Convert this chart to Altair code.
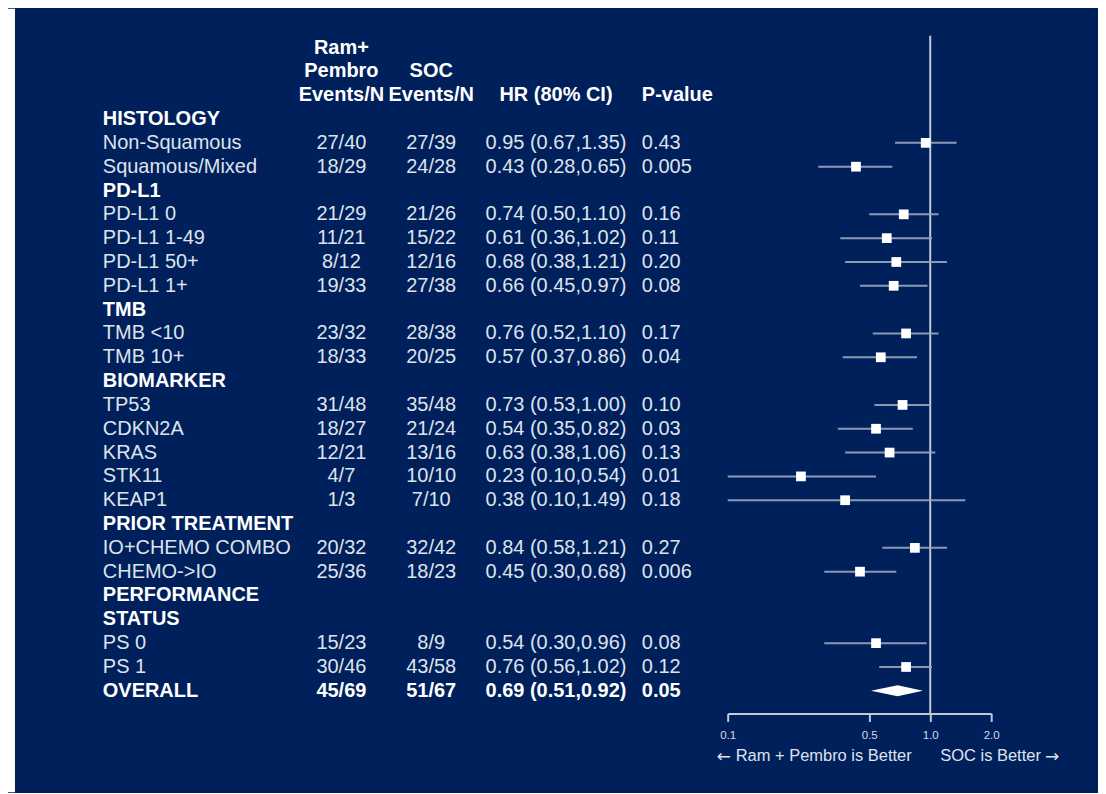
import altair as alt
import pandas as pd

# ---------------- data ----------------
labels = ["HISTOLOGY", "Non-Squamous", "Squamous/Mixed", "PD-L1", "PD-L1 0", "PD-L1 1-49",
          "PD-L1 50+", "PD-L1 1+", "TMB", "TMB <10", "TMB 10+", "BIOMARKER", "TP53", "CDKN2A",
          "KRAS", "STK11", "KEAP1", "PRIOR TREATMENT", "IO+CHEMO COMBO", "CHEMO->IO",
          "PERFORMANCE", "STATUS", "PS 0", "PS 1", "OVERALL"]
section_rows = ["HISTOLOGY", "PD-L1", "TMB", "BIOMARKER", "PRIOR TREATMENT",
                "PERFORMANCE", "STATUS", "OVERALL"]
ram_events = ["", "27/40", "18/29", "", "21/29", "11/21", "8/12", "19/33", "", "23/32", "18/33", "",
              "31/48", "18/27", "12/21", "4/7", "1/3", "", "20/32", "25/36", "", "", "15/23", "30/46", "45/69"]
soc_events = ["", "27/39", "24/28", "", "21/26", "15/22", "12/16", "27/38", "", "28/38", "20/25", "",
              "35/48", "21/24", "13/16", "10/10", "7/10", "", "32/42", "18/23", "", "", "8/9", "43/58", "51/67"]
hr = [None, 0.95, 0.43, None, 0.74, 0.61, 0.68, 0.66, None, 0.76, 0.57, None,
      0.73, 0.54, 0.63, 0.23, 0.38, None, 0.84, 0.45, None, None, 0.54, 0.76, 0.69]
lo = [None, 0.67, 0.28, None, 0.50, 0.36, 0.38, 0.45, None, 0.52, 0.37, None,
      0.53, 0.35, 0.38, 0.10, 0.10, None, 0.58, 0.30, None, None, 0.30, 0.56, 0.51]
hi = [None, 1.35, 0.65, None, 1.10, 1.02, 1.21, 0.97, None, 1.10, 0.86, None,
      1.00, 0.82, 1.06, 0.54, 1.49, None, 1.21, 0.68, None, None, 0.96, 1.02, 0.92]
pvals = ["", "0.43", "0.005", "", "0.16", "0.11", "0.20", "0.08", "", "0.17", "0.04", "",
         "0.10", "0.03", "0.13", "0.01", "0.18", "", "0.27", "0.006", "", "", "0.08", "0.12", "0.05"]

head_ram = ["Ram+", "Pembro", "Events/N"]
head_soc = ["", "SOC", "Events/N"]
head_hr = ["", "", "HR (80% CI)"]
head_p = ["", "", "P-value"]

tick_values = [0.1, 0.5, 1.0, 2.0]
direction_words = ["Ram + Pembro is Better", "SOC is Better"]
direction_arrows = ["\u2190", "\u2192"]

# ---------------- tables ----------------
n = len(labels)
overall_idx = labels.index("OVERALL")

text_recs = []
for k in range(3):
    r = k - 3
    for col, t in (("ram", head_ram[k]), ("soc", head_soc[k]), ("hr", head_hr[k]), ("p", head_p[k])):
        if t:
            text_recs.append({"row": r, "col": col, "text": t, "bold": True})
for i in range(n):
    is_bold = labels[i] in section_rows
    text_recs.append({"row": i, "col": "label", "text": labels[i], "bold": is_bold})
    rb = i == overall_idx
    if ram_events[i]:
        text_recs.append({"row": i, "col": "ram", "text": ram_events[i], "bold": rb})
    if soc_events[i]:
        text_recs.append({"row": i, "col": "soc", "text": soc_events[i], "bold": rb})
    if hr[i] is not None:
        text_recs.append({"row": i, "col": "hr",
                          "text": f"{hr[i]:.2f} ({lo[i]:.2f},{hi[i]:.2f})", "bold": rb})
    if pvals[i]:
        text_recs.append({"row": i, "col": "p", "text": pvals[i], "bold": rb})
texts = pd.DataFrame(text_recs)

est = pd.DataFrame([{"row": i, "hr": hr[i], "lo": lo[i], "hi": hi[i]}
                    for i in range(n) if hr[i] is not None and i != overall_idx])

dh = 0.23
diamond = pd.DataFrame({
    "x": [lo[overall_idx], hr[overall_idx], hi[overall_idx]],
    "y": [overall_idx, overall_idx - dh, overall_idx],
    "y2": [overall_idx, overall_idx + dh, overall_idx],
})

# ---------------- styling ----------------
BG = "#00205c"
FONT = "Liberation Sans"
REG = "#dfe3eb"
BRIGHT = "#ffffff"
LINE = "#c3c9d6"

xscale = alt.Scale(type="log", domain=[0.1, 2.0], nice=False, zero=False)
yscale = alt.Scale(domain=[-3.5, 24.95], reverse=True, nice=False, zero=False)

xaxis = alt.Axis(values=tick_values, format=".1f", title=None, grid=False,
                 labelFont=FONT, labelFontSize=11.5, labelColor="#d5dae4",
                 domainColor=LINE, domainWidth=2, tickColor=LINE, tickWidth=2,
                 tickSize=8, labelPadding=8, labelFlush=False)

base_txt = alt.Chart(texts)

col_pos = {"label": (-626, "left"), "ram": (-387, "center"), "soc": (-297, "center"),
           "hr": (-172, "center"), "p": (-86, "left")}

layers = []

# white strip on left (outside the navy panel)
strip = alt.Chart(pd.DataFrame({"a": [0]})).mark_rect(color="white").encode(
    x=alt.value(-721), x2=alt.value(-714), y=alt.value(-27), y2=alt.value(758))
layers.append(strip)

ref = alt.Chart(pd.DataFrame({"x": [1.0]})).mark_rule(color=LINE, strokeWidth=2).encode(
    x=alt.X("x:Q", scale=xscale, axis=xaxis))
layers.append(ref)

ci = alt.Chart(est).mark_rule(color="#9aa6bf", strokeWidth=2, opacity=0.9).encode(
    x=alt.X("lo:Q", scale=xscale, axis=xaxis),
    x2="hi:Q",
    y=alt.Y("row:Q", scale=yscale, axis=None))
layers.append(ci)

sq = alt.Chart(est).mark_square(color="white", size=95, opacity=1).encode(
    x=alt.X("hr:Q", scale=xscale, axis=xaxis),
    y=alt.Y("row:Q", scale=yscale, axis=None))
layers.append(sq)

dia = alt.Chart(diamond).mark_area(color="white", orient="vertical", opacity=1).encode(
    x=alt.X("x:Q", scale=xscale, axis=xaxis),
    y=alt.Y("y:Q", scale=yscale, axis=None),
    y2="y2:Q")
layers.append(dia)

for col, (xp, al) in col_pos.items():
    for b in (True, False):
        sub = base_txt.transform_filter(
            (alt.datum.col == col) & (alt.datum.bold == b)
        ).mark_text(align=al, baseline="middle", font=FONT, fontSize=20,
                    fontWeight="bold" if b else "normal",
                    color=BRIGHT if b else REG).encode(
            x=alt.value(xp),
            y=alt.Y("row:Q", scale=yscale, axis=None),
            text="text:N")
        layers.append(sub)

dirs = pd.DataFrame({"t": direction_words, "a": direction_arrows, "side": ["l", "r"]})
for side, xp in (("l", 8), ("r", 213)):
    layers.append(
        alt.Chart(dirs).transform_filter(alt.datum.side == side).mark_text(
            align="left", baseline="middle", font=FONT, fontSize=16.5, color=REG).encode(
            x=alt.value(xp), y=alt.value(722), text="t:N"))
for side, xp in (("l", -11), ("r", 318)):
    layers.append(
        alt.Chart(dirs).transform_filter(alt.datum.side == side).mark_text(
            align="left", baseline="middle", font="DejaVu Sans", fontSize=17, color=REG).encode(
            x=alt.value(xp), y=alt.value(723), text="a:N"))

chart = alt.layer(*layers).properties(
    width=264, height=679,
    padding={"left": 721, "top": 27, "right": 107, "bottom": 79},
    autosize=alt.AutoSizeParams(type="none"),
    background=BG,
).configure_view(stroke=None)

chart.save("out.html", embed_options={"renderer": "svg", "actions": False})
